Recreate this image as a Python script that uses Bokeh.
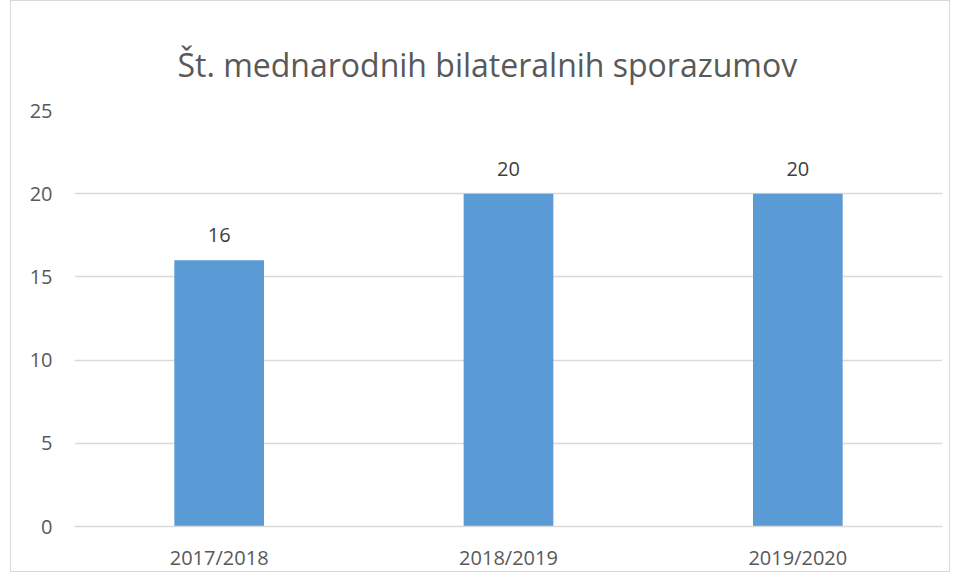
from bokeh.plotting import figure
from bokeh.models import ColumnDataSource, Title, FixedTicker, LabelSet, Range1d
from bokeh.core.properties import value
from bokeh.embed import file_html
from bokeh.resources import INLINE

categories = ["2017/2018", "2018/2019", "2019/2020"]
values = [16, 20, 20]
labels = ["16", "20", "20"]
y_ticks = [0, 5, 10, 15, 20, 25]

FONT = "Open Sans"
src = ColumnDataSource(dict(cat=categories, val=values, lab=labels))

p = figure(x_range=categories, y_range=Range1d(0, 25), width=940, height=572,
           output_backend="svg", toolbar_location=None, title=None)
p.min_border_left = 63
p.min_border_right = 9
p.min_border_top = 109
p.min_border_bottom = 47
p.styles = {"border": "1px solid #d9d9d9", "margin": "0 0 0 10px"}

p.add_layout(Title(text="Št. mednarodnih bilateralnih sporazumov", align="left",
                   text_font=FONT, text_font_size="32px", text_font_style="normal",
                   text_color="#595959", offset=103, standoff=49), "above")

p.vbar(x="cat", top="val", width=0.31, source=src, fill_color="#5b9bd5", line_color=None)

p.add_layout(LabelSet(x="cat", y="val", text="lab", source=src, y_offset=18,
                      text_align="center", text_baseline="bottom", text_font=value(FONT),
                      text_font_size="20px", text_color="#404040"))

p.outline_line_color = None
p.xgrid.grid_line_color = None
p.ygrid.grid_line_color = "#d9d9d9"
p.ygrid.grid_line_width = 1.5
p.yaxis.ticker = FixedTicker(ticks=y_ticks)
p.yaxis.axis_line_color = None
p.yaxis.major_tick_line_color = None
p.yaxis.minor_tick_line_color = None
p.yaxis.major_tick_out = 0
p.yaxis.minor_tick_out = 0
p.yaxis.major_label_standoff = 22
p.xaxis.axis_line_color = "#d9d9d9"
p.xaxis.axis_line_width = 1.5
p.xaxis.major_tick_line_color = None
p.xaxis.major_tick_out = 0
p.xaxis.major_label_standoff = 17
for ax in (p.xaxis, p.yaxis):
    ax.major_label_text_font = FONT
    ax.major_label_text_font_size = "20px"
    ax.major_label_text_color = "#595959"

open("out.html", "w").write(file_html(p, INLINE))
